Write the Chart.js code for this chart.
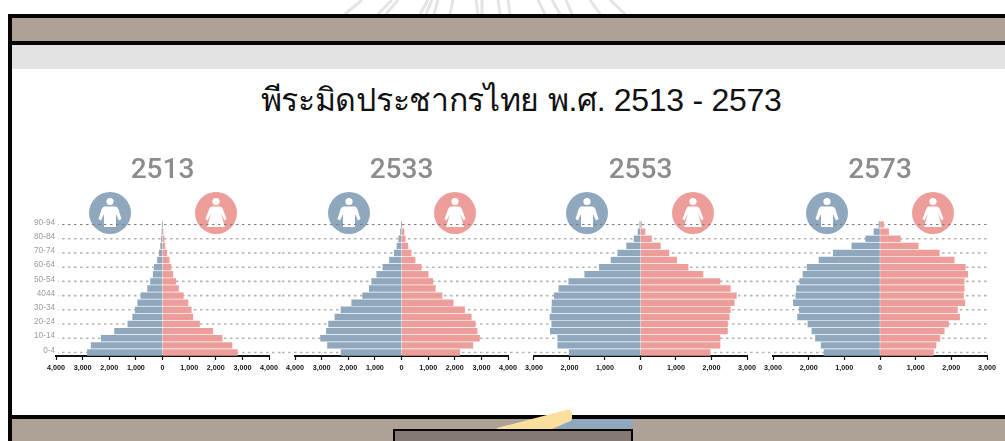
<!DOCTYPE html>
<html lang="th"><head><meta charset="utf-8">
<script src="https://cdn.jsdelivr.net/npm/chart.js@4/dist/chart.umd.min.js"></script>
<style>
html,body{margin:0;padding:0;background:#fff;width:1005px;height:441px;overflow:hidden}
#stage{position:relative;width:1005px;height:441px;overflow:hidden;font-family:"Liberation Sans",Arial,sans-serif}
.abs{position:absolute}
canvas{position:absolute}
#title{left:0;width:1042px;top:77px;text-align:center;font-size:32px;letter-spacing:-0.3px;line-height:46px;color:#111;white-space:nowrap}
svg{position:absolute;left:0;top:0;pointer-events:none}
</style></head><body>
<div id="stage">
<svg width="1005" height="441" style="z-index:0">
 <g stroke="#e4e4e4" stroke-width="3" fill="none">
  <path d="M345 14L362 0M378 14L392 0M386 14L398 0M420 14L428 0M426 14L432 0M434 14L438 0M450 14L453 0M478 14L476 0M572 14L566 0M500 14L498 0M482 14L482 0M510 14 L508 0M545 14L538 0M560 14L552 0M600 14L590 0M625 14L610 0"/>
 </g>
</svg>
<div class="abs" style="left:8px;top:14px;width:997px;height:4px;background:#050505"></div>
<div class="abs" style="left:12px;top:18px;width:993px;height:23px;background:#aea195"></div>
<div class="abs" style="left:8px;top:41px;width:997px;height:4px;background:#050505"></div>
<div class="abs" style="left:12px;top:45px;width:993px;height:24px;background:#e3e3e3"></div>
<div class="abs" style="left:8px;top:14px;width:4px;height:427px;background:#050505"></div>
<div class="abs" style="left:8px;top:415px;width:997px;height:4px;background:#050505"></div>
<div class="abs" style="left:12px;top:419px;width:993px;height:22px;background:#aea195"></div>
<div class="abs" style="left:556px;top:419px;width:77px;height:11px;background:#8fa8bd;border-radius:0 5px 0 0"></div>
<svg width="1005" height="441" style="z-index:1"><path d="M497 428L566 410Q571 408 572 413L572 418Q572 421 568 422L552 429L497 429Z" fill="#fbdf9f"/></svg>
<div class="abs" style="left:393px;top:429px;width:236px;height:12px;border:2px solid #050505;border-bottom:0;background:#857a73;z-index:2"></div>
<div id="title" class="abs">พีระมิดประชากรไทย พ.ศ. 2513 - 2573</div>
</div>
<script>
const ageGroups = ['0-4','5-9','10-14','15-19','20-24','25-29','30-34','35-39','40-44','45-49','50-54','55-59','60-64','65-69','70-74','75-79','80-84','85-89','90-94'];
const ageTickLabels = ['0-4','10-14','20-24','30-34','4044','50-54','60-64','70-74','80-84','90-94'];
const years = ['2513','2533','2553','2573'];
const axisLimits = [4000,4000,3000,3000];
const male2513 = [2820,2680,2300,1800,1300,1120,1020,930,810,560,450,350,310,190,120,70,40,10,0];
const female2513 = [2810,2610,2240,1890,1390,1140,1080,960,780,600,500,390,320,250,160,90,60,10,0];
const male2533 = [2270,2780,3040,2820,2740,2500,2270,1870,1460,1210,1120,930,700,450,270,170,100,40,0];
const female2533 = [2190,2680,2930,2840,2770,2620,2370,1940,1520,1270,1170,1000,740,510,360,240,140,90,0];
const male2553 = [2010,2330,2330,2540,2500,2550,2500,2490,2430,2300,2020,1570,1160,830,640,390,180,70,20];
const female2553 = [1960,2240,2240,2450,2450,2500,2530,2640,2700,2530,2240,1760,1340,1020,800,560,310,130,30];
const male2573 = [1570,1650,1810,1910,2020,2310,2260,2430,2360,2340,2250,2160,2040,1710,1310,790,400,170,30];
const female2573 = [1500,1570,1680,1800,1920,2230,2170,2380,2340,2360,2360,2460,2390,2080,1660,1070,570,240,100];
const maleSeries = [male2513,male2533,male2553,male2573];
const femaleSeries = [female2513,female2533,female2553,female2573];

const MALE='#8fa8bd', FEMALE='#ee9e9a';
const FONT='"Liberation Sans",Arial,sans-serif';
// canvas frames and plot frames (layout only)
const frames=[{l:20,r:282,x0:56,x1:270,lineFrom:58},{l:282,r:521,x0:295,x1:509,lineFrom:282},{l:521,r:760,x0:533,x1:747,lineFrom:521},{l:760,r:1005,x0:773,x1:987,lineFrom:760}];
const TOP=150,H=225,PLOT_BOTTOM=356,PLOT_TOP=221;
const stage=document.getElementById('stage');

const dashLines={id:'dashLines',beforeDatasetsDraw(chart,a,o){
  const y=chart.scales.y,ctx=chart.ctx;
  ctx.save();ctx.setLineDash([2.5,3.5]);ctx.lineDashOffset=o.left;
  ageGroups.forEach((g,i)=>{ if(i%2) return;
    const py=y.getPixelForValue(i);
    ctx.strokeStyle=i===18?'#7a7a7a':'#b4b4b4';
    ctx.lineWidth=i===18?1:1.6;
    ctx.beginPath();ctx.moveTo(o.from-o.left,py);ctx.lineTo(o.to-o.left,py);ctx.stroke();});
  ctx.restore();
}};

years.forEach((yr,k)=>{
  const f=frames[k],w=f.r-f.l,lim=axisLimits[k],showY=k===0;
  const c=document.createElement('canvas');
  c.style.left=f.l+'px';c.style.top=TOP+'px';c.style.width=w+'px';c.style.height=H+'px';c.style.zIndex=3;
  const wrap=document.createElement('div');wrap.className='abs';
  wrap.style.cssText=`left:${f.l}px;top:${TOP}px;width:${w}px;height:${H}px;z-index:3`;
  c.style.left='0';c.style.top='0';
  wrap.appendChild(c);stage.appendChild(wrap);
  new Chart(c,{type:'bar',
    data:{labels:ageGroups,datasets:[
      {label:'ชาย',data:maleSeries[k].map(v=>-v),backgroundColor:MALE,borderWidth:0,inflateAmount:0.33,barPercentage:0.81,categoryPercentage:1},
      {label:'หญิง',data:femaleSeries[k],backgroundColor:FEMALE,borderWidth:0,inflateAmount:0.33,barPercentage:0.81,categoryPercentage:1}]},
    options:{indexAxis:'y',responsive:false,animation:false,events:[],
      layout:{padding:{left:showY?0:f.x0-f.l,right:f.r-f.x1,top:0,bottom:0}},
      plugins:{legend:{display:false},tooltip:{enabled:false},
        title:{display:true,text:yr,color:'#8c8c8c',font:{family:'Roboto,'+FONT,size:28,weight:'500',lineHeight:1.2},fullSize:false,padding:{top:4,bottom:PLOT_TOP-TOP-4-33.6}},
        dashLines:{left:f.l,from:f.lineFrom,to:Math.min(f.r,987)}},
      scales:{
        x:{type:'linear',stacked:true,min:-lim,max:lim,
          grid:{drawOnChartArea:false,color:'#111',tickLength:4,tickWidth:1.2},
          border:{color:'#111',width:2},
          afterFit(s){s.height=H-(PLOT_BOTTOM-TOP);},
          ticks:{stepSize:1000,autoSkip:false,maxRotation:0,minRotation:0,color:'#111',padding:4,
            font:{family:FONT,size:7.2,weight:'bold'},
            callback:v=>Math.abs(v).toLocaleString('en-US')}},
        y:{type:'category',stacked:true,reverse:true,display:showY,
          grid:{display:false,drawTicks:false},border:{display:false},
          afterFit(s){s.width=showY?f.x0-f.l:0;},
          ticks:{autoSkip:false,maxRotation:0,padding:1,color:'#9a9a9a',labelOffset:-2,
            font:{family:FONT,size:8.2},
            callback(v,i){return i%2?'':ageTickLabels[i/2];}}}
      }},
    plugins:[dashLines]});

  // person icons
  const centre=(f.x0+f.x1)/2;
  const svg=`<svg width="1005" height="441" style="left:${-f.l}px;top:${-TOP}px;position:absolute">
  <g transform="translate(${centre-53},213)"><circle r="21" fill="${MALE}"/><circle cy="-11.5" r="3.6" fill="#fff"/><path fill="#fff" d="M-5.5-6.5L5.5-6.5Q7.5-6.5 8.5-3.5L11.5 6 9 7.5 6 1 6 14-6 14-6 1-9 7.5-11.5 6-8.5-3.5Q-7.5-6.5-5.5-6.5Z"/></g>
  <g transform="translate(${centre+53},213)"><circle r="21" fill="${FEMALE}"/><circle cy="-11.5" r="3.6" fill="#fff"/><path fill="#fff" d="M-4-6.5L4-6.5Q6-6.5 7-3.5L10.5 6 8.5 7.5 5 1 9 14-9 14-5 1-8.5 7.5-10.5 6-7-3.5Q-6-6.5-4-6.5Z"/></g></svg>`;
  wrap.insertAdjacentHTML('beforeend',svg);
});
</script>
</body></html>
